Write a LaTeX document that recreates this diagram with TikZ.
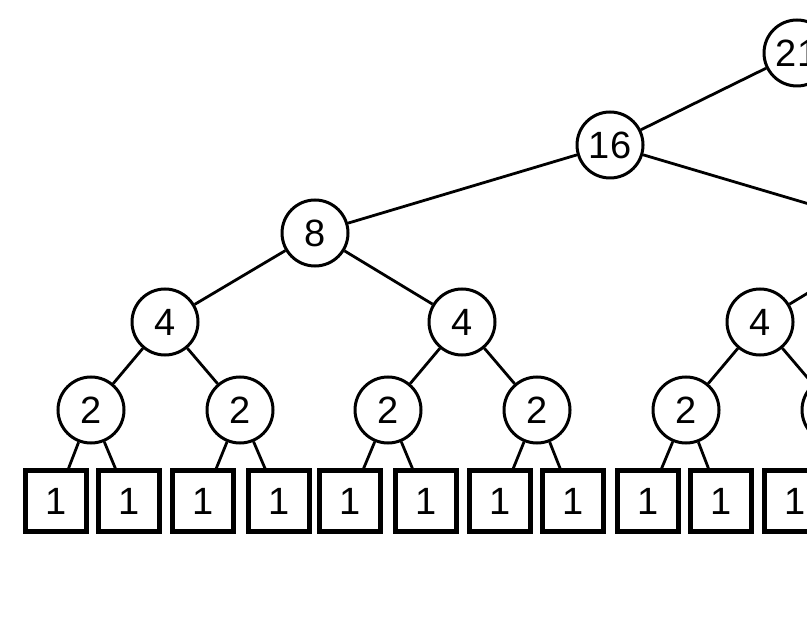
\documentclass[tikz,border=0pt]{standalone}
\usepackage{fontspec}
\setmainfont{Liberation Sans}
\usetikzlibrary{positioning}

\begin{document}
\begin{tikzpicture}[x=0.5pt, y=-0.5pt,
  sum/.style={draw, circle, line width=1.5pt, minimum size=33pt, inner sep=0pt, fill=white, font=\fontsize{19}{20}\selectfont},
  leaf/.style={draw, rectangle, line width=2.2pt, minimum size=30.5pt, inner sep=0pt, fill=white, font=\fontsize{19}{20}\selectfont},
  link/.style={line width=1.4pt}]
\useasboundingbox (0,0) rectangle (807,625);
\clip (0,0) rectangle (807,625);

% Top
\node[sum] (N21) at (797, 53) {21};
\node[sum] (N16) at (610, 145) {16};
\coordinate (R8) at (907, 233);

% Eight and fours
\node[sum] (N8) at (315, 233) {8};
\node[sum] (N4a) at (165, 322) {4};
\node[sum] (N4b) at (462, 322) {4};
\node[sum] (N4c) at (760, 322) {4};

% Twos
\node[sum] (N2a) at (91, 410) {2};
\node[sum] (N2b) at (240, 410) {2};
\node[sum] (N2c) at (388, 410) {2};
\node[sum] (N2d) at (537, 410) {2};
\node[sum] (N2e) at (686, 410) {2};
\node[sum] (N2f) at (835, 410) {2};

% Leaves
\node[leaf] (L1) at (56, 501) {1};
\node[leaf] (L2) at (129, 501) {1};
\node[leaf] (L3) at (203, 501) {1};
\node[leaf] (L4) at (279, 501) {1};
\node[leaf] (L5) at (350, 501) {1};
\node[leaf] (L6) at (426, 501) {1};
\node[leaf] (L7) at (500, 501) {1};
\node[leaf] (L8) at (573, 501) {1};
\node[leaf] (L9) at (648, 501) {1};
\node[leaf] (L10) at (721, 501) {1};
\node[leaf] (L11) at (795, 501) {1};

\draw[link] (N16) -- (N21);
\draw[link] (N16) -- (N8);
\draw[link] (N16) -- (R8);
\draw[link] (N8) -- (N4a);
\draw[link] (N8) -- (N4b);
\draw[link] (R8) -- (N4c);
\draw[link] (N4a) -- (N2a);
\draw[link] (N4a) -- (N2b);
\draw[link] (N4b) -- (N2c);
\draw[link] (N4b) -- (N2d);
\draw[link] (N4c) -- (N2e);
\draw[link] (N4c) -- (N2f);
\draw[link] (N2a) -- (L1);
\draw[link] (N2a) -- (L2);
\draw[link] (N2b) -- (L3);
\draw[link] (N2b) -- (L4);
\draw[link] (N2c) -- (L5);
\draw[link] (N2c) -- (L6);
\draw[link] (N2d) -- (L7);
\draw[link] (N2d) -- (L8);
\draw[link] (N2e) -- (L9);
\draw[link] (N2e) -- (L10);
\draw[link] (N2f) -- (L11);
\end{tikzpicture}
\end{document}
